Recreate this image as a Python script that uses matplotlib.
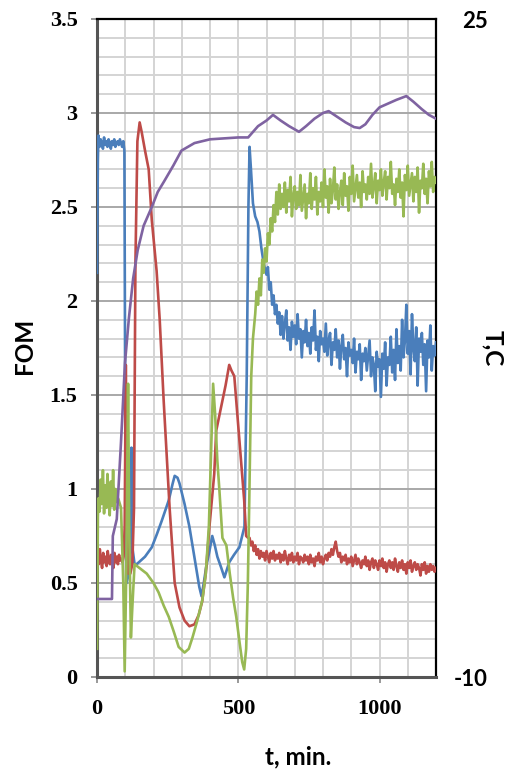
import numpy as np
import matplotlib.pyplot as plt
from matplotlib.ticker import MultipleLocator

# ---- data (t in min, FOM, temperature in C) ----
blue_head_t = [0, 3]
blue_head = [2.15, 2.75]
blue_flat_t = list(range(5, 94, 4))
blue_flat = [2.88, 2.82, 2.86, 2.84, 2.81, 2.87, 2.83, 2.85, 2.82, 2.86,
             2.84, 2.81, 2.85, 2.83, 2.86, 2.82, 2.84, 2.85, 2.83, 2.86,
             2.84, 2.82, 2.85]
blue_mid_t = [97, 101, 105, 112, 118, 122, 126, 133, 140, 148,
              170, 194, 212, 229, 254, 268, 275, 285, 292, 310,
              327, 349, 362, 370, 378, 387, 398, 408, 417, 426,
              440, 451, 468, 485, 504, 514, 522, 530, 536, 540,
              545, 552, 560, 568, 575, 582, 590]
blue_mid = [2.80, 0.9, 0.5, 0.55, 0.62, 1.22, 0.68, 0.6, 0.6, 0.61,
            0.64, 0.69, 0.76, 0.83, 0.94, 1.03, 1.07, 1.06, 1.03, 0.92,
            0.8, 0.6, 0.48, 0.43, 0.5, 0.59, 0.67, 0.75, 0.7, 0.64,
            0.58, 0.53, 0.61, 0.65, 0.69, 0.75, 0.8, 1.6, 2.5, 2.82,
            2.7, 2.52, 2.45, 2.42, 2.37, 2.28, 2.2]
blue_tail_t = list(range(600, 1201, 5))
blue_tail = [2.14, 2.18, 2.06, 2.10, 1.98, 2.03, 1.93, 1.98, 1.88, 1.94,
             1.82, 1.92, 1.80, 1.88, 1.95, 1.79, 1.86, 1.74, 1.89, 1.81,
             1.87, 1.77, 1.93, 1.80, 1.85, 1.70, 1.84, 1.78, 1.90, 1.76,
             1.83, 1.72, 1.86, 1.79, 1.95, 1.74, 1.81, 1.68, 1.84, 1.77,
             1.80, 1.73, 1.88, 1.71, 1.79, 1.83, 1.66, 1.78, 1.74, 1.85,
             1.70, 1.79, 1.64, 1.76, 1.82, 1.69, 1.75, 1.60, 1.78, 1.71,
             1.74, 1.67, 1.80, 1.62, 1.73, 1.69, 1.77, 1.58, 1.72, 1.68,
             1.75, 1.63, 1.71, 1.79, 1.60, 1.70, 1.66, 1.52, 1.73, 1.65,
             1.69, 1.49, 1.72, 1.64, 1.78, 1.55, 1.70, 1.66, 1.81, 1.62,
             1.74, 1.58, 1.85, 1.67, 1.76, 1.63, 1.90, 1.70, 1.79, 1.98,
             1.72, 1.84, 1.61, 1.93, 1.75, 1.68, 1.86, 1.55, 1.80, 1.73,
             1.83, 1.66, 1.77, 1.52, 1.79, 1.70, 1.87, 1.63, 1.76, 1.71,
             1.78]

red_head_t = [0] + list(range(2, 95, 4))
red_head = [0.70, 0.65, 0.60, 0.68, 0.62, 0.58, 0.66, 0.61, 0.64, 0.59,
            0.67, 0.62, 0.60, 0.65, 0.63, 0.58, 0.66, 0.61, 0.64, 0.60,
            0.65, 0.62, 0.63, 0.61, 0.64]
red_mid_t = [98, 102, 106, 110, 118, 125, 131, 136, 143, 151,
             158, 170, 183, 194, 211, 222, 236, 257, 275, 292,
             310, 327, 345, 360, 372, 385, 398, 415, 422, 440,
             455, 468, 476, 486, 504, 521, 528, 535]
red_mid = [0.8, 1.66, 0.9, 0.55, 0.55, 0.6, 0.9, 2.2, 2.85, 2.95,
           2.9, 2.8, 2.7, 2.43, 2.16, 1.9, 1.47, 0.9, 0.5, 0.37,
           0.3, 0.27, 0.28, 0.33, 0.4, 0.55, 0.8, 1.08, 1.31, 1.44,
           1.55, 1.66, 1.63, 1.6, 1.26, 0.94, 0.75, 0.74]
red_tail_t = list(range(540, 1201, 5))
red_tail = [0.74, 0.70, 0.72, 0.67, 0.70, 0.65, 0.68, 0.63, 0.67, 0.64,
            0.66, 0.62, 0.67, 0.64, 0.61, 0.66, 0.63, 0.67, 0.62, 0.65,
            0.63, 0.66, 0.61, 0.65, 0.62, 0.67, 0.63, 0.60, 0.65, 0.62,
            0.66, 0.61, 0.64, 0.62, 0.66, 0.60, 0.64, 0.63, 0.61, 0.65,
            0.62, 0.64, 0.60, 0.65, 0.61, 0.63, 0.59, 0.64, 0.62, 0.66,
            0.61, 0.64, 0.60, 0.63, 0.65, 0.62, 0.66, 0.64, 0.68, 0.65,
            0.69, 0.72, 0.67, 0.64, 0.66, 0.61, 0.64, 0.62, 0.65, 0.60,
            0.63, 0.61, 0.64, 0.59, 0.62, 0.65, 0.60, 0.63, 0.61, 0.58,
            0.62, 0.60, 0.64, 0.59, 0.62, 0.57, 0.61, 0.63, 0.58, 0.62,
            0.60, 0.57, 0.62, 0.59, 0.63, 0.58, 0.61, 0.56, 0.60, 0.62,
            0.58, 0.61, 0.57, 0.63, 0.59, 0.56, 0.61, 0.58, 0.62, 0.57,
            0.60, 0.55, 0.61, 0.58, 0.62, 0.56, 0.59, 0.61, 0.57, 0.60,
            0.58, 0.54, 0.60, 0.57, 0.61, 0.55, 0.59, 0.56, 0.60, 0.57,
            0.59, 0.56, 0.58]

green_head_t = [0, 3] + list(range(5, 70, 4))
green_head = [0.15, 0.85,
              0.95, 0.88, 1.05, 0.92, 1.10, 0.87, 1.02, 0.90, 1.08, 0.94,
              0.86, 1.04, 0.91, 1.10, 0.89, 1.00, 0.93]
green_mid_t = [75, 85, 93, 98, 104, 110, 114, 120, 126, 133,
               150, 176, 200, 218, 236, 254, 272, 289, 310, 325,
               338, 355, 373, 385, 396, 404, 411, 418, 426, 433,
               444, 458, 470, 482, 493, 505, 514, 521, 528, 534,
               539, 546, 552]
green_mid = [0.95, 0.9, 0.5, 0.03, 0.6, 1.56, 0.8, 0.21, 0.4, 0.6,
             0.58, 0.55, 0.5, 0.45, 0.38, 0.32, 0.24, 0.16, 0.13, 0.15,
             0.21, 0.3, 0.41, 0.55, 0.8, 1.2, 1.56, 1.4, 1.15, 1.0,
             0.74, 0.7, 0.55, 0.42, 0.32, 0.18, 0.08, 0.04, 0.15, 0.5,
             0.94, 1.6, 1.8]
green_tail_t = list(range(560, 1201, 5))
green_tail = [1.93, 2.05, 1.98, 2.12, 2.03, 2.22, 2.15, 2.28, 2.21, 2.36,
              2.30, 2.44, 2.37, 2.51, 2.42, 2.58, 2.46, 2.62, 2.49, 2.57,
              2.50, 2.63, 2.47, 2.59, 2.53, 2.66, 2.45, 2.56, 2.61, 2.49,
              2.58, 2.51, 2.67, 2.48, 2.55, 2.62, 2.44, 2.57, 2.52, 2.68,
              2.49, 2.60, 2.54, 2.66, 2.46, 2.58, 2.53, 2.63, 2.50, 2.70,
              2.55, 2.61, 2.47, 2.65, 2.52, 2.59, 2.71, 2.54, 2.62, 2.49,
              2.58, 2.64, 2.51, 2.68, 2.56, 2.61, 2.48, 2.66, 2.57, 2.72,
              2.53, 2.60, 2.67, 2.55, 2.63, 2.50, 2.69, 2.58, 2.62, 2.54,
              2.66, 2.57, 2.73, 2.55, 2.61, 2.68, 2.52, 2.64, 2.59, 2.70,
              2.56, 2.63, 2.69, 2.54, 2.66, 2.60, 2.74, 2.57, 2.62, 2.51,
              2.65, 2.58, 2.70, 2.55, 2.63, 2.45, 2.67, 2.59, 2.72, 2.56,
              2.62, 2.68, 2.53, 2.66, 2.58, 2.71, 2.47, 2.64, 2.60, 2.73,
              2.57, 2.65, 2.52, 2.69, 2.61, 2.74, 2.58, 2.66, 2.63]

temp_t = [0, 53, 56, 70, 85, 99, 113, 128, 144, 165,
          194, 215, 239, 270, 299, 345, 400, 450, 500, 535,
          570, 600, 623, 650, 680, 715, 740, 770, 800, 820,
          850, 880, 910, 930, 950, 975, 1000, 1030, 1060, 1095,
          1120, 1150, 1175, 1200]
temp = [-5.85, -5.85, -2.5, -1.6, 2.5, 6.7, 9.1, 11.2, 12.7, 14.0,
        15.0, 15.8, 16.4, 17.2, 18.0, 18.4, 18.6, 18.65, 18.7, 18.7,
        19.3, 19.6, 19.9, 19.6, 19.3, 19.0, 19.3, 19.7, 20.0, 20.1,
        19.8, 19.5, 19.25, 19.2, 19.4, 19.9, 20.3, 20.5, 20.7, 20.9,
        20.6, 20.2, 19.9, 19.7]

blue_t = blue_head_t + blue_flat_t + blue_mid_t + blue_tail_t
blue = blue_head + blue_flat + blue_mid + blue_tail
red_t = red_head_t + red_mid_t + red_tail_t
red = red_head + red_mid + red_tail
green_t = green_head_t + green_mid_t + green_tail_t
green = green_head + green_mid + green_tail

fig = plt.figure(figsize=(5.07, 7.71), dpi=100)
ax = fig.add_axes([97 / 507, 1 - 677 / 771, 339 / 507, 658 / 771])

ax.plot(blue_t, blue, color='#4a7ebb', lw=1.9, zorder=3, solid_joinstyle='round')
ax.plot(red_t, red, color='#be4b48', lw=1.9, zorder=4, solid_joinstyle='round')
ax.plot(green_t, green, color='#98b954', lw=1.9, zorder=5, solid_joinstyle='round')

ax.set_xlim(0, 1200)
ax.set_ylim(0, 3.5)
ax.xaxis.set_major_locator(MultipleLocator(500))
ax.xaxis.set_minor_locator(MultipleLocator(100))
ax.yaxis.set_major_locator(MultipleLocator(0.5))
ax.yaxis.set_minor_locator(MultipleLocator(0.1))
ax.grid(which='minor', color='#d4d4d4', lw=1.4)
ax.grid(which='major', axis='y', color='#a8a8a8', lw=1.4)
ax.grid(which='major', axis='x', color='#d4d4d4', lw=1.4)
ax.set_axisbelow(True)

ax.set_yticks([0, 0.5, 1, 1.5, 2, 2.5, 3, 3.5])
ax.set_yticklabels(['0', '0.5', '1', '1.5', '2', '2.5', '3', '3.5'])
ax.tick_params(which='minor', length=0)
ax.tick_params(which='major', length=4, width=1.2, color='#888888')
ax.tick_params(axis='y', pad=10)
ax.tick_params(axis='x', pad=12)
for lab in ax.get_xticklabels() + ax.get_yticklabels():
    lab.set_fontfamily('Liberation Serif')
    lab.set_fontweight('bold')
    lab.set_fontsize(16)

for side in ['left', 'bottom']:
    ax.spines[side].set_color('#555555')
    ax.spines[side].set_linewidth(2.2)
for side in ['top', 'right']:
    ax.spines[side].set_color('black')
    ax.spines[side].set_linewidth(1.6)

ax2 = ax.twinx()
ax2.plot(temp_t, temp, color='#7f63a1', lw=1.9, zorder=6)
ax2.set_ylim(-10, 25)
ax2.set_yticks([-10, 25])
ax2.set_yticklabels(['-10', '25'])
ax2.tick_params(axis='y', length=0, pad=37)
for lab in ax2.get_yticklabels():
    lab.set_ha('right')
    lab.set_fontfamily('Lato')
    lab.set_fontweight('bold')
    lab.set_fontsize(16)
for s in ax2.spines.values():
    s.set_visible(False)

fig.text(24 / 507, 1 - 346 / 771, 'FOM', rotation=90, ha='center', va='center',
         fontsize=17.5, fontweight='bold', family='Lato')
fig.text(493 / 507, 1 - 348 / 771, 'T,C', rotation=270, ha='center', va='center',
         fontsize=17.5, fontweight='bold', family='Lato')
fig.text(298 / 507, 1 - 757 / 771, 't, min.', ha='center', va='center',
         fontsize=17.5, fontweight='bold', family='Lato')

fig.savefig('out.png', dpi=100)
